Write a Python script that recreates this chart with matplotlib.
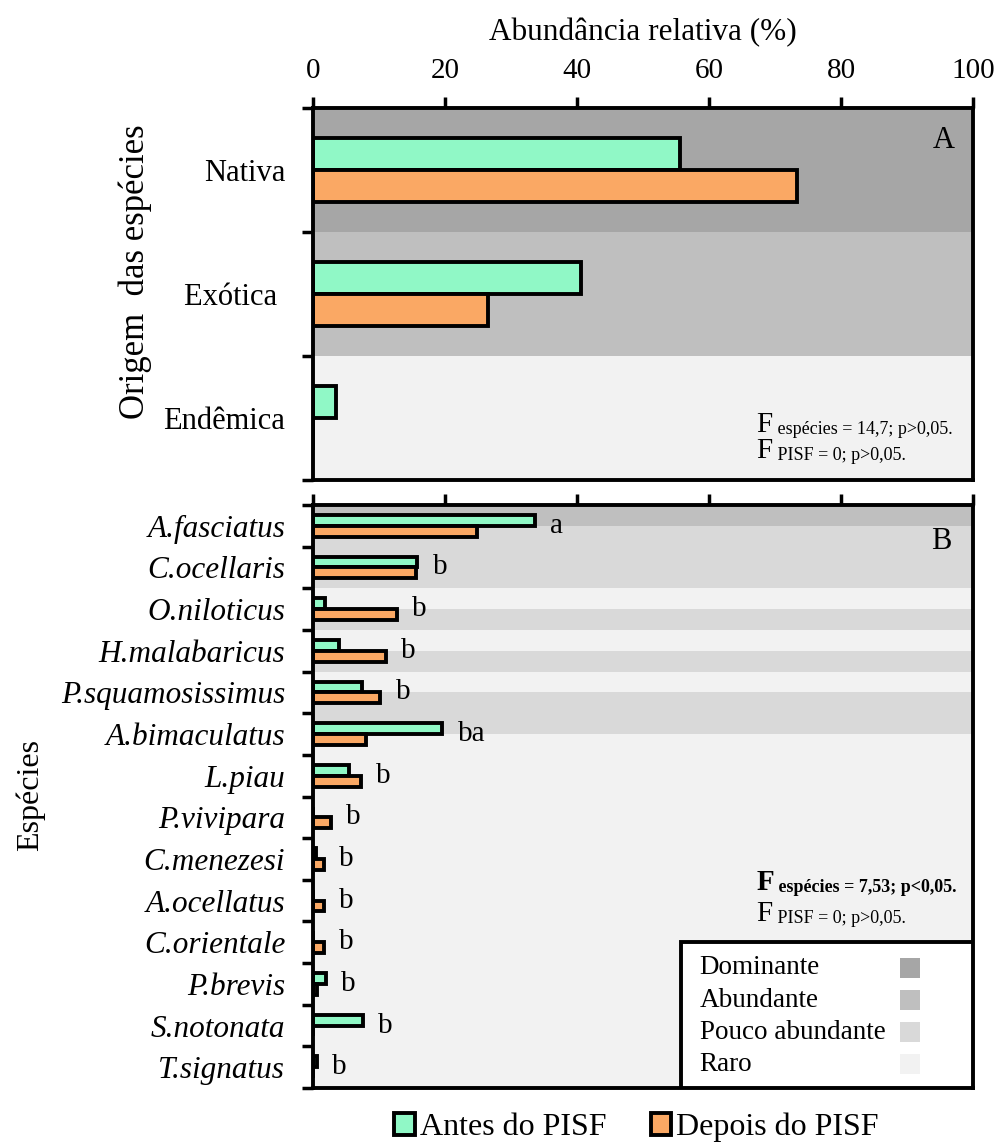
import numpy as np
import matplotlib
matplotlib.use("Agg")
import matplotlib.pyplot as plt
from matplotlib.patches import Patch, Rectangle

plt.rcParams['font.family'] = ['Liberation Serif', 'DejaVu Serif']

# panel A - origem das especies
origens = ['Nativa', 'Exótica ', 'Endêmica']
antes_origem = [55.6, 40.6, 3.5]
depois_origem = [73.3, 26.5, 0.0]

# panel B - especies
especies = ['A.fasciatus', 'C.ocellaris', 'O.niloticus', 'H.malabaricus',
            'P.squamosissimus', 'A.bimaculatus', 'L.piau', 'P.vivipara',
            'C.menezesi', 'A.ocellatus', 'C.orientale', 'P.brevis',
            'S.notonata', 'T.signatus']
antes_esp = [33.6, 15.8, 1.8, 4.0, 7.5, 19.6, 5.4, 0.0, 0.5, 0.0, 0.0, 2.0, 7.6, 0.6]
depois_esp = [24.8, 15.6, 12.7, 11.1, 10.2, 8.0, 7.3, 2.7, 1.7, 1.7, 1.7, 0.6, 0.0, 0.0]
letras = ['a', 'b', 'b', 'b', 'b', 'ba', 'b', 'b', 'b', 'b', 'b', 'b', 'b', 'b']

# abundance classes (Raro < 10 <= Pouco < 25 <= Abundante < 50 <= Dominante)
classes = ['Dominante', 'Abundante', 'Pouco abundante', 'Raro']
limites = [10, 25, 50]
cores_classe = ['#f2f2f2', '#d9d9d9', '#bfbfbf', '#a6a6a6']  # Raro -> Dominante

cor_antes = '#90f8c6'
cor_depois = '#faa864'
h = 0.26


def draw_panel(ax, labels, antes, depois, italic=False):
    n = len(labels)
    y = np.arange(n)
    # background bands, one per bar half
    for i in range(n):
        ca = cores_classe[np.digitize(antes[i], limites)]
        cd = cores_classe[np.digitize(depois[i], limites)]
        ax.axhspan(i - 0.5, i, color=ca, lw=0, zorder=0)
        ax.axhspan(i, i + 0.5, color=cd, lw=0, zorder=0)
    ax.barh(y - h / 2, antes, height=h, color=cor_antes, edgecolor='black', linewidth=2.8, zorder=3)
    ax.barh(y + h / 2, depois, height=h, color=cor_depois, edgecolor='black', linewidth=2.8, zorder=3)
    ax.set_xlim(0, 100)
    ax.set_ylim(n - 0.5, -0.5)
    ax.set_yticks(y)
    ax.set_yticklabels(labels, fontsize=22.5 if italic else 22, style='italic' if italic else 'normal')
    ax.set_yticks(np.arange(n + 1) - 0.5, minor=True)
    ax.tick_params(axis='y', which='major', length=0, pad=20)
    ax.tick_params(axis='y', which='minor', length=8, width=2.5, direction='out')
    ax.set_xticks(np.arange(0, 101, 20))
    ax.xaxis.tick_top()
    ax.tick_params(axis='x', length=8, width=2.5, direction='out', labelsize=21, pad=9)
    for s in ax.spines.values():
        s.set_linewidth(2.8)
        s.set_zorder(5)


def stat_text(ax, x, y, sub, bold=False):
    w = 'bold' if bold else 'normal'
    t = ax.text(x, y, 'F', transform=ax.transAxes, fontsize=21, fontweight=w,
                va='baseline', ha='left', zorder=6)
    ax.annotate(' ' + sub, xy=(1, 0), xycoords=t, xytext=(0, 0), textcoords='offset points',
                fontsize=13, fontweight=w, va='bottom', ha='left', zorder=6)


fig = plt.figure(figsize=(9.99, 11.47), dpi=100)
axA = fig.add_axes([0.3133, 0.5815, 0.6607, 0.3243])
axB = fig.add_axes([0.3133, 0.0514, 0.6607, 0.5083])

draw_panel(axA, origens, antes_origem, depois_origem)
axA.xaxis.set_label_position('top')
axA.set_xlabel('Abundância relativa (%)', fontsize=22.5, labelpad=13)
axA.text(0.955, 0.914, 'A', transform=axA.transAxes, fontsize=22, ha='center', va='center')
stat_text(axA, 0.672, 0.130, 'espécies = 14,7; p>0,05.')
stat_text(axA, 0.672, 0.058, 'PISF = 0; p>0,05.')

draw_panel(axB, especies, antes_esp, depois_esp, italic=True)
axB.tick_params(axis='x', labeltop=False)
axB.text(0.952, 0.938, 'B', transform=axB.transAxes, fontsize=22, ha='center', va='center')
for i, l in enumerate(letras):
    xm = max(antes_esp[i], depois_esp[i])
    axB.text(xm + 2.3, i, l, fontsize=21, ha='left', va='center', zorder=6)
stat_text(axB, 0.672, 0.340, 'espécies = 7,53; p<0,05.', bold=True)
stat_text(axB, 0.672, 0.286, 'PISF = 0; p>0,05.')

# class legend box
axB.add_patch(Rectangle((0.558, 0), 0.442, 0.25, transform=axB.transAxes, facecolor='white',
                        edgecolor='black', linewidth=2.8, zorder=6))
ys = [0.206, 0.151, 0.096, 0.041]
for k, nome in enumerate(classes):
    axB.text(0.586, ys[k], nome, transform=axB.transAxes, fontsize=19.5, va='center', ha='left', zorder=7)
    axB.add_patch(Rectangle((0.889, ys[k] - 0.017), 0.031, 0.034, transform=axB.transAxes,
                            facecolor=cores_classe[3 - k], edgecolor='none', zorder=7))

fig.text(0.135, 0.763, 'Origem  das espécies', rotation=90, fontsize=25, ha='center', va='center')
fig.text(0.030, 0.307, 'Espécies', rotation=90, fontsize=23, ha='center', va='center')

handles = [Patch(facecolor=cor_antes, edgecolor='black', linewidth=2.8),
           Patch(facecolor=cor_depois, edgecolor='black', linewidth=2.8)]
fig.legend(handles, ['Antes do PISF', 'Depois do PISF'], loc='center', bbox_to_anchor=(0.637, 0.017),
           ncol=2, frameon=False, fontsize=23, handlelength=0.65, handleheight=0.65,
           handletextpad=0.15, columnspacing=1.4)

fig.savefig('out.png', dpi=100)
